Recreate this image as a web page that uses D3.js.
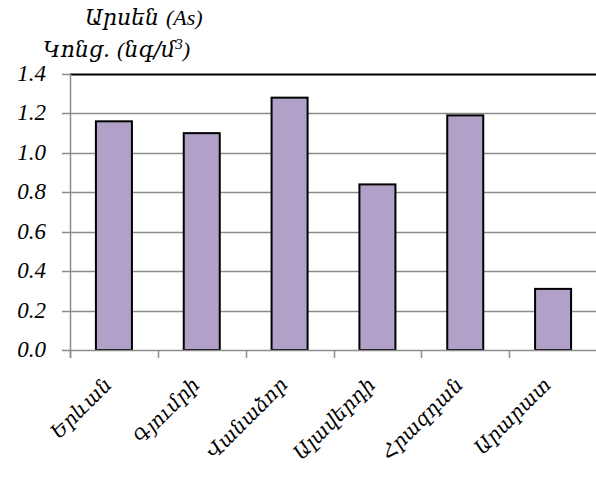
<!DOCTYPE html>
<html>
<head>
<meta charset="utf-8">
<script src="https://cdn.jsdelivr.net/npm/d3@7"></script>
<style>
  html, body { margin: 0; padding: 0; background: #fff; }
</style>
</head>
<body>
<svg id="chart" width="596" height="479"></svg>
<script>
// Arsenic concentration by city
const cities = ["Երևան", "Գյումրի", "Վանաձոր", "Ալավերդի", "Հրազդան", "Արարատ"];
const values = [1.16, 1.10, 1.28, 0.84, 1.19, 0.31];
const yTicks = [0, 0.2, 0.4, 0.6, 0.8, 1.0, 1.2, 1.4];
// title pieces: [text, script] — "arm" for Armenian runs, "lat" for Latin/digits
const titleParts = [["Արսեն ", "arm"], ["(As)", "lat"]];
const unitParts = [["Կոնց. ", "arm"], ["(", "lat"], ["նգ/մ", "arm"]];
const unitSup = "3";
const unitClose = ")";

const fonts = { arm: "DejaVu Serif", lat: "Liberation Serif" };

const svg = d3.select("#chart");
const plotLeft = 70, plotRight = 597, plotTop = 74, plotBottom = 350;

const x = d3.scaleBand().domain(cities).range([plotLeft, plotRight]).paddingInner(0.59).paddingOuter(0.295);
const xTickScale = d3.scaleLinear().domain([0, cities.length]).range([plotLeft, plotRight]);
const y = d3.scaleLinear().domain([0, 1.4]).range([plotBottom, plotTop]);

function styled(sel, family, size) {
  return sel.attr("font-family", family).attr("font-style", "italic").attr("font-size", size).attr("fill", "#000");
}

// horizontal gridlines (top one is the dark frame line)
svg.append("g").selectAll("line").data(yTicks.slice(1)).join("line")
  .attr("x1", plotLeft).attr("x2", 596)
  .attr("y1", d => Math.round(y(d)) + 0.5).attr("y2", d => Math.round(y(d)) + 0.5)
  .attr("stroke", d => d === 1.4 ? "#000" : "#8c8c8c")
  .attr("stroke-width", d => d === 1.4 ? 2 : 1.5);

// bars
svg.append("g").selectAll("rect").data(values).join("rect")
  .attr("x", (d, i) => x(cities[i]))
  .attr("y", d => y(d))
  .attr("width", x.bandwidth())
  .attr("height", d => y(0) - y(d))
  .attr("fill", "#b1a0c7")
  .attr("stroke", "#000")
  .attr("stroke-width", 2);

// y axis
const yAxis = svg.append("g");
yAxis.append("line").attr("x1", plotLeft + 0.5).attr("x2", plotLeft + 0.5)
  .attr("y1", y(1.4)).attr("y2", y(0) + 8).attr("stroke", "#8c8c8c").attr("stroke-width", 1.5);
yAxis.selectAll("line.tick").data(yTicks).join("line").attr("class", "tick")
  .attr("x1", plotLeft - 8).attr("x2", plotLeft)
  .attr("y1", d => Math.round(y(d)) + 0.5).attr("y2", d => Math.round(y(d)) + 0.5)
  .attr("stroke", "#8c8c8c").attr("stroke-width", 1.5);
styled(yAxis.selectAll("text").data(yTicks).join("text"), fonts.lat, 23)
  .attr("x", 46).attr("y", d => y(d) + 7)
  .attr("text-anchor", "end")
  .text(d => d3.format(".1f")(d));

// x axis
const xAxis = svg.append("g");
xAxis.append("line").attr("x1", plotLeft).attr("x2", 596)
  .attr("y1", plotBottom + 0.5).attr("y2", plotBottom + 0.5)
  .attr("stroke", "#8c8c8c").attr("stroke-width", 1.5);
xAxis.selectAll("line.tick").data(d3.range(cities.length)).join("line").attr("class", "tick")
  .attr("x1", d => Math.round(xTickScale(d)) + 0.5).attr("x2", d => Math.round(xTickScale(d)) + 0.5)
  .attr("y1", plotBottom).attr("y2", plotBottom + 8)
  .attr("stroke", "#8c8c8c").attr("stroke-width", 1.5);
styled(xAxis.selectAll("text").data(cities).join("text"), fonts.arm, 20)
  .attr("transform", d => `translate(${x(d) + x.bandwidth() / 2 - 1},${plotBottom + 36}) rotate(-45)`)
  .attr("text-anchor", "end")
  .text(d => d);

// two-line title
const title = svg.append("text").attr("x", 85).attr("y", 25);
titleParts.forEach(([t, s]) => styled(title.append("tspan"), fonts[s], 22).text(t));
const unit = svg.append("text").attr("x", 43).attr("y", 57);
unitParts.forEach(([t, s]) => styled(unit.append("tspan"), fonts[s], 22).text(t));
styled(unit.append("tspan"), fonts.lat, 15).attr("dy", -8).text(unitSup);
styled(unit.append("tspan"), fonts.lat, 22).attr("dy", 8).text(unitClose);
</script>
</body>
</html>
